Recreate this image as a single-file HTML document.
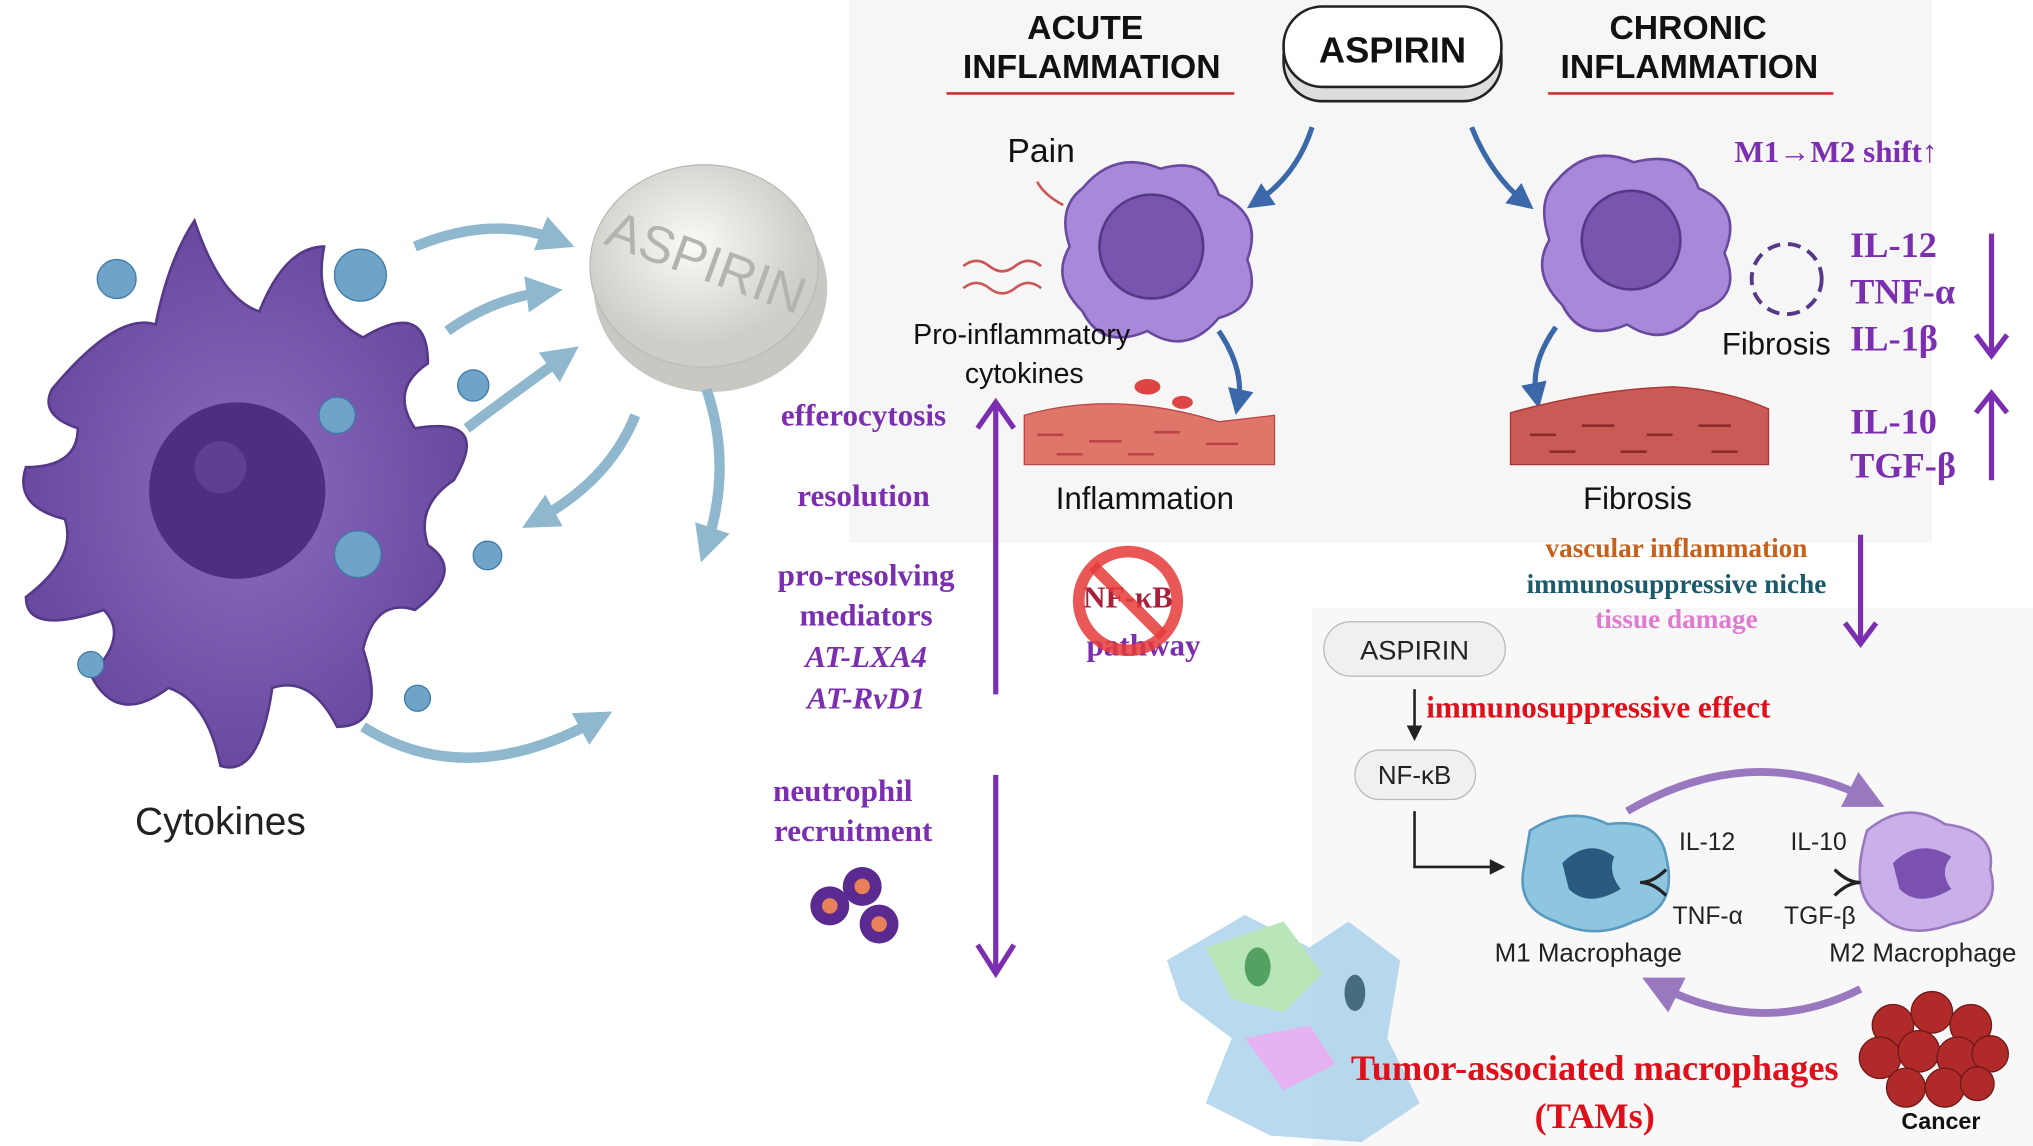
<!DOCTYPE html>
<html><head><meta charset="utf-8"><style>
html,body{margin:0;padding:0;background:#fff}
svg{display:block}
.s{font-family:"Liberation Sans",sans-serif}
.r{font-family:"Liberation Serif",serif;font-weight:bold}
</style></head><body>
<svg width="2033" height="1146" viewBox="0 0 1568 883" preserveAspectRatio="none" xmlns="http://www.w3.org/2000/svg">
<defs>
<marker id="ab" markerWidth="3.5" markerHeight="3.5" refX="1.75" refY="1.75" orient="auto"><path d="M0,0L3.5,1.75L0,3.5z" fill="#8fb8cf"/></marker>
<marker id="ad" markerWidth="5" markerHeight="5" refX="2.5" refY="2.5" orient="auto"><path d="M0,0L5,2.5L0,5z" fill="#3a68a8"/></marker>
<marker id="ap" markerWidth="5" markerHeight="5" refX="2.5" refY="2.5" orient="auto"><path d="M0,0L5,2.5L0,5z" fill="#9a78c0"/></marker>
<marker id="ak" markerWidth="6" markerHeight="6" refX="3" refY="3" orient="auto"><path d="M0,0L6,3L0,6z" fill="#222"/></marker>
<radialGradient id="pill" cx="45%" cy="40%"><stop offset="0" stop-color="#fbfaf6"/><stop offset="1" stop-color="#cfcdc7"/></radialGradient>
<radialGradient id="cell" cx="50%" cy="50%"><stop offset="0" stop-color="#8c6cc0"/><stop offset="1" stop-color="#6a4aa0"/></radialGradient>
</defs>
<rect x="655" y="0" width="835" height="418" fill="#f6f6f6"/>
<rect x="1012" y="468" width="556" height="415" fill="#f8f8f8"/>

<path d="M40,300 Q90,240 120,250 Q130,200 150,170 Q170,230 200,240 Q220,190 250,190 Q240,240 280,260 Q330,230 330,280 Q300,300 320,330 Q380,320 350,370 Q320,390 330,420 Q360,440 320,470 Q290,460 280,500 Q300,560 260,560 Q240,520 210,530 Q200,600 170,590 Q160,540 130,530 Q90,560 70,520 Q100,490 80,470 Q20,490 20,460 Q60,430 50,400 Q10,390 20,360 Q60,360 60,330 Q30,320 40,300Z" fill="url(#cell)" stroke="#553888" stroke-width="2"/>
<circle cx="183" cy="378" r="68" fill="#4d2e80"/>
<circle cx="170" cy="360" r="20" fill="#6a4ca0" opacity="0.6"/>
<g fill="#6fa3c8" stroke="#3e7aa8"><circle cx="90" cy="215" r="15"/><circle cx="278" cy="212" r="20"/><circle cx="365" cy="297" r="12"/><circle cx="260" cy="320" r="14"/><circle cx="276" cy="427" r="18"/><circle cx="376" cy="428" r="11"/><circle cx="70" cy="512" r="10"/><circle cx="322" cy="538" r="10"/></g>
<text x="170" y="643" class="s" font-size="30" text-anchor="middle" fill="#222">Cytokines</text>
<ellipse cx="548" cy="222" rx="90" ry="80" fill="#c9c7c2"/>
<ellipse cx="543" cy="205" rx="88" ry="78" fill="url(#pill)" stroke="#bbb"/>
<text x="540" y="215" class="s" font-size="40" fill="#b5b3ad" text-anchor="middle" transform="rotate(20 540 215)">ASPIRIN</text>
<g stroke="#8fb8cf" stroke-width="8" fill="none" marker-end="url(#ab)">
<path d="M320,190 Q380,165 430,185"/><path d="M345,255 Q380,230 420,225"/><path d="M360,330 Q400,300 435,275"/><path d="M490,320 Q470,370 415,400"/><path d="M545,300 Q565,360 545,420"/><path d="M280,560 Q360,610 460,555"/>
</g>
<g font-weight="bold">
<text x="837" y="30" class="s" font-size="26" text-anchor="middle" fill="#111">ACUTE</text>
<text x="842" y="60" class="s" font-size="26" text-anchor="middle" fill="#111">INFLAMMATION</text>
<text x="1302" y="30" class="s" font-size="26" text-anchor="middle" fill="#111">CHRONIC</text>
<text x="1303" y="60" class="s" font-size="26" text-anchor="middle" fill="#111">INFLAMMATION</text></g>
<line x1="730" y1="72" x2="952" y2="72" stroke="#c33" stroke-width="2"/>
<line x1="1194" y1="72" x2="1414" y2="72" stroke="#c33" stroke-width="2"/>
<rect x="990" y="14" width="168" height="64" rx="30" fill="#ddd" stroke="#222" stroke-width="2"/>
<rect x="990" y="5" width="168" height="62" rx="30" fill="#fff" stroke="#222" stroke-width="2"/>
<text x="1074" y="48" class="s" font-size="28" font-weight="bold" text-anchor="middle" fill="#111">ASPIRIN</text>
<g stroke="#3a68a8" stroke-width="4" fill="none" marker-end="url(#ad)">
<path d="M1012,98 Q1000,135 970,155"/><path d="M1135,98 Q1150,135 1175,155"/>
<path d="M940,255 Q960,285 955,310"/><path d="M1200,252 Q1180,280 1185,305"/>
</g>
<path d="M835,145 Q860,115 895,130 Q930,120 940,150 Q975,165 962,200 Q975,235 940,245 Q915,275 885,255 Q850,270 835,240 Q810,215 825,190 Q815,160 835,145Z" fill="#a888d8" stroke="#6a4aa0" stroke-width="2"/>
<circle cx="888" cy="190" r="40" fill="#7a55b0" stroke="#553888" stroke-width="2"/>
<text x="803" y="125" class="s" font-size="26" text-anchor="middle" fill="#111">Pain</text>
<path d="M800,140 Q805,150 820,158" stroke="#c55" stroke-width="2" fill="none"/>
<path d="M743,205 q10,-8 20,0 t20,0 t20,0 M743,222 q10,-8 20,0 t20,0 t20,0" stroke="#c55" stroke-width="2" fill="none"/>
<text x="788" y="265" class="s" font-size="22" text-anchor="middle" fill="#111">Pro-inflammatory</text>
<text x="790" y="295" class="s" font-size="22" text-anchor="middle" fill="#111">cytokines</text>
<path d="M790,320 Q860,300 940,325 L983,320 L983,358 L790,358Z" fill="#e0766a" stroke="#b44"/>
<path d="M800,335 h20 M840,340 h25 M890,333 h20 M930,342 h25 M815,350 h20 M870,350 h20" stroke="#b44" stroke-width="2"/>
<ellipse cx="885" cy="298" rx="10" ry="6" fill="#d44"/><ellipse cx="912" cy="310" rx="8" ry="5" fill="#d44"/>
<text x="883" y="392" class="s" font-size="24" text-anchor="middle" fill="#111">Inflammation</text>
<path d="M1200,140 Q1225,110 1260,125 Q1300,115 1310,145 Q1345,160 1330,195 Q1345,230 1310,240 Q1285,270 1255,250 Q1220,265 1205,235 Q1180,210 1195,185 Q1185,155 1200,140Z" fill="#a888d8" stroke="#6a4aa0" stroke-width="2"/>
<circle cx="1258" cy="185" r="38" fill="#7a55b0" stroke="#553888" stroke-width="2"/>
<circle cx="1378" cy="215" r="27" fill="none" stroke="#553888" stroke-width="3" stroke-dasharray="10,6"/>
<text x="1370" y="273" class="s" font-size="24" text-anchor="middle" fill="#111">Fibrosis</text>
<path d="M1165,318 Q1230,300 1290,298 Q1330,300 1364,315 L1364,358 L1165,358Z" fill="#c95a55" stroke="#a33"/>
<path d="M1180,335 h20 M1220,328 h25 M1270,335 h20 M1310,328 h25 M1195,348 h20 M1250,348 h20 M1320,348 h20" stroke="#8a2a2a" stroke-width="2"/>
<text x="1263" y="392" class="s" font-size="24" text-anchor="middle" fill="#111">Fibrosis</text>
<text x="1416" y="125" class="r" font-size="24" text-anchor="middle" fill="#7b2fb0">M1→M2 shift↑</text>
<g class="r" font-size="28" fill="#7b2fb0">
<text x="1427" y="198">IL-12</text><text x="1427" y="234">TNF-α</text><text x="1427" y="270">IL-1β</text>
<text x="1427" y="334">IL-10</text><text x="1427" y="368">TGF-β</text></g>
<g stroke="#7b2fb0" stroke-width="4" fill="none">
<line x1="1536" y1="180" x2="1536" y2="272"/><path d="M1524,258 L1536,274 L1548,258"/>
<line x1="1536" y1="306" x2="1536" y2="370"/><path d="M1524,318 L1536,303 L1548,318"/>
<line x1="1435" y1="412" x2="1435" y2="494"/><path d="M1423,480 L1435,496 L1447,480"/>
<line x1="768" y1="312" x2="768" y2="535"/><path d="M754,330 L768,310 L782,330"/>
<line x1="768" y1="597" x2="768" y2="748"/><path d="M754,728 L768,750 L782,728"/>
</g>
<g class="r" font-size="24" text-anchor="middle" fill="#7b2fb0">
<text x="666" y="328">efferocytosis</text><text x="666" y="390">resolution</text>
<text x="668" y="451">pro-resolving</text><text x="668" y="482">mediators</text>
<text x="668" y="514" font-style="italic">AT-LXA4</text><text x="668" y="546" font-style="italic">AT-RvD1</text>
<text x="650" y="617">neutrophil</text><text x="658" y="648">recruitment</text></g>
<g><circle cx="640" cy="698" r="15" fill="#5a2a90"/><circle cx="665" cy="683" r="15" fill="#5a2a90"/><circle cx="678" cy="712" r="15" fill="#5a2a90"/>
<circle cx="640" cy="698" r="6" fill="#e8805a"/><circle cx="665" cy="683" r="6" fill="#e8805a"/><circle cx="678" cy="712" r="6" fill="#e8805a"/></g>
<text x="870" y="468" class="r" font-size="24" text-anchor="middle" fill="#a8203a">NF-κB</text>
<text x="882" y="505" class="r" font-size="24" text-anchor="middle" fill="#7b2fb0">pathway</text>
<circle cx="870" cy="463" r="38" fill="none" stroke="#e63a3a" stroke-width="9" opacity="0.85"/>
<line x1="843" y1="436" x2="897" y2="490" stroke="#e63a3a" stroke-width="9" opacity="0.85"/>
<g class="r" font-size="21" text-anchor="middle">
<text x="1293" y="429" fill="#c8601a">vascular inflammation</text>
<text x="1293" y="457" fill="#1a5a6a">immunosuppressive niche</text>
<text x="1293" y="484" fill="#e07ad0">tissue damage</text></g>
<rect x="1021" y="479" width="140" height="42" rx="21" fill="#f0f0f0" stroke="#bbb"/>
<text x="1091" y="508" class="s" font-size="21" text-anchor="middle" fill="#222">ASPIRIN</text>
<line x1="1091" y1="531" x2="1091" y2="565" stroke="#222" stroke-width="2" marker-end="url(#ak)"/>
<text x="1100" y="553" class="r" font-size="24" fill="#e0101a">immunosuppressive effect</text>
<rect x="1045" y="578" width="93" height="38" rx="19" fill="#f0f0f0" stroke="#bbb"/>
<text x="1091" y="604" class="s" font-size="20" text-anchor="middle" fill="#222">NF-κB</text>
<path d="M1091,625 L1091,668 L1155,668" stroke="#222" stroke-width="2" fill="none" marker-end="url(#ak)"/>
<path d="M1255,625 Q1350,570 1440,615" stroke="#9a78c0" stroke-width="6" fill="none" marker-end="url(#ap)"/>
<path d="M1435,762 Q1360,800 1280,760" stroke="#9a78c0" stroke-width="6" fill="none" marker-end="url(#ap)"/>
<path d="M1180,640 Q1210,620 1240,635 Q1280,630 1285,660 Q1295,700 1260,710 Q1230,725 1200,710 Q1170,700 1175,670Z" fill="#8ec6e0" stroke="#5a9ac0" stroke-width="2"/>
<path d="M1205,665 Q1225,645 1245,660 Q1240,672 1250,685 Q1225,700 1210,685Z" fill="#2a5a80"/>
<path d="M1440,640 Q1470,615 1500,635 Q1540,640 1535,670 Q1545,705 1505,712 Q1470,725 1450,705 Q1425,690 1440,640Z" fill="#c9b0e8" stroke="#9a78c0" stroke-width="2"/>
<path d="M1460,665 Q1480,645 1505,660 Q1495,672 1505,685 Q1480,700 1465,685Z" fill="#7a50b0"/>
<text x="1225" y="741" class="s" font-size="20" text-anchor="middle" fill="#222">M1 Macrophage</text>
<text x="1483" y="741" class="s" font-size="20" text-anchor="middle" fill="#222">M2 Macrophage</text>
<g class="s" font-size="19" fill="#222"><text x="1295" y="655">IL-12</text><text x="1290" y="712">TNF-α</text><text x="1381" y="655">IL-10</text><text x="1376" y="712">TGF-β</text></g>
<path d="M1285,670 Q1275,680 1265,680 Q1275,680 1285,690 M1415,670 Q1425,680 1435,680 Q1425,680 1415,690" stroke="#222" stroke-width="2.5" fill="none"/>
<g opacity="0.8"><path d="M900,740 L960,705 L1010,730 L1040,710 L1080,740 L1070,800 L1095,850 L1050,880 L980,875 L930,850 L950,800 L910,770Z" fill="#a8d0ea"/>
<path d="M930,730 L990,710 L1020,750 L990,780 L950,770Z" fill="#a8e0a8"/><path d="M960,800 L1010,790 L1030,820 L990,840Z" fill="#e0a0f0"/><ellipse cx="970" cy="745" rx="10" ry="15" fill="#2a8a3a"/><ellipse cx="1045" cy="765" rx="8" ry="14" fill="#1a4a60"/></g>
<g fill="#b02a2a" stroke="#701818"><circle cx="1460" cy="790" r="16"/><circle cx="1490" cy="780" r="16"/><circle cx="1520" cy="790" r="16"/><circle cx="1450" cy="815" r="16"/><circle cx="1480" cy="810" r="16"/><circle cx="1510" cy="815" r="16"/><circle cx="1535" cy="812" r="14"/><circle cx="1470" cy="838" r="15"/><circle cx="1500" cy="838" r="15"/><circle cx="1525" cy="835" r="13"/></g>
<text x="1497" y="870" class="s" font-size="18" font-weight="bold" text-anchor="middle" fill="#111">Cancer</text>
<text x="1230" y="832" class="r" font-size="28" text-anchor="middle" fill="#e0101a">Tumor-associated macrophages</text>
<text x="1230" y="869" class="r" font-size="28" text-anchor="middle" fill="#e0101a">(TAMs)</text>
</svg>
</body></html>
